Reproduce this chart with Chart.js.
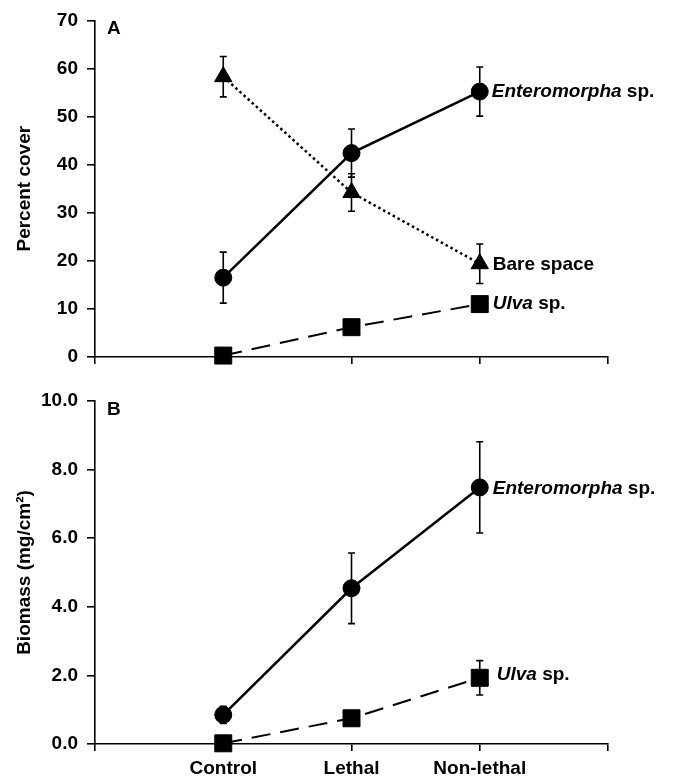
<!DOCTYPE html>
<html>
<head>
<meta charset="utf-8">
<script src="https://cdn.jsdelivr.net/npm/chart.js@4/dist/chart.umd.min.js"></script>
<style>
  body { margin: 0; background: #fff; }
  canvas { display: block; }
</style>
</head>
<body>
<canvas id="chartA" width="678" height="380"></canvas>
<canvas id="chartB" width="678" height="398"></canvas>
<script>
// Categories sit at x = 1, 2, 3 on a 0..4 axis
const categories = ['Control', 'Lethal', 'Non-lethal'];
const xPositions = [1, 2, 3];

// Panel A : percent cover
const coverEnteromorpha = [16.5, 42.4, 55.2];
const coverEnteromorphaErr = [5.3, 5.0, 5.1];
const coverBare = [58.3, 34.2, 19.4];
const coverBareErr = [4.2, 3.9, 4.1];
const coverUlva = [0.3, 6.2, 11.0];
const coverUlvaErr = [0, 0, 0];

// Panel B : biomass (mg/cm2)
const biomassEnteromorpha = [0.85, 4.54, 7.48];
const biomassEnteromorphaErr = [0.25, 1.03, 1.33];
const biomassUlva = [0.02, 0.75, 1.93];
const biomassUlvaErr = [0, 0, 0.5];

const fontFamily = '"Liberation Sans", Arial, sans-serif';
const fontSize = 19;

Chart.defaults.font.family = fontFamily;
Chart.defaults.color = '#000';

function points(values) {
    return values.map((v, i) => ({ x: xPositions[i], y: v }));
}

function serie(values, errors, style, label) {
    const base = {
        data: points(values),
        errors: errors,
        endLabel: label,
        borderColor: '#000',
        backgroundColor: '#000',
        pointBackgroundColor: '#000',
        pointBorderColor: '#000',
        pointBorderWidth: 1,
        borderWidth: 2.5,
        fill: false,
        clip: false,
        tension: 0
    };
    if (style === 'circle') {
        base.pointStyle = 'circle';
        base.pointRadius = 8.5;
    } else if (style === 'triangle') {
        base.pointStyle = 'triangle';
        base.pointRadius = 10;
        base.borderDash = [2.5, 3];
        base.borderWidth = 2.5;
    } else {
        base.pointStyle = 'rect';
        base.pointRadius = 12;
        base.borderDash = [19, 10];
        base.borderWidth = 2;
    }
    return base;
}

// Error bars, drawn under the markers
const errorBarPlugin = {
    id: 'errorBars',
    beforeDatasetsDraw(chart) {
        const ctx = chart.ctx;
        const xs = chart.scales.x;
        const ys = chart.scales.y;
        ctx.save();
        ctx.strokeStyle = '#000';
        ctx.lineWidth = 1.6;
        ctx.setLineDash([]);
        chart.data.datasets.forEach(ds => {
            ds.data.forEach((p, i) => {
                const e = ds.errors[i];
                if (!e) return;
                const x = xs.getPixelForValue(p.x);
                const yTop = ys.getPixelForValue(p.y + e);
                const yBot = ys.getPixelForValue(p.y - e);
                ctx.beginPath();
                ctx.moveTo(x, yTop);
                ctx.lineTo(x, yBot);
                ctx.moveTo(x - 3.5, yTop);
                ctx.lineTo(x + 3.5, yTop);
                ctx.moveTo(x - 3.5, yBot);
                ctx.lineTo(x + 3.5, yBot);
                ctx.stroke();
            });
        });
        ctx.restore();
    }
};

// Series names at the end of each line, plus the panel letter
const labelPlugin = {
    id: 'endLabels',
    afterDraw(chart, args, opts) {
        const ctx = chart.ctx;
        const xs = chart.scales.x;
        const ys = chart.scales.y;
        ctx.save();
        ctx.fillStyle = '#000';
        ctx.textBaseline = 'middle';
        ctx.textAlign = 'left';
        chart.data.datasets.forEach(ds => {
            const lab = ds.endLabel;
            const last = ds.data[ds.data.length - 1];
            let x = xs.getPixelForValue(last.x) + lab.dx;
            const y = ys.getPixelForValue(last.y) + lab.dy;
            if (lab.italic) {
                ctx.font = 'italic bold ' + fontSize + 'px ' + fontFamily;
                ctx.fillText(lab.italic, x, y);
                x += ctx.measureText(lab.italic).width;
            }
            ctx.font = 'bold ' + fontSize + 'px ' + fontFamily;
            ctx.fillText(lab.text, x, y);
        });
        ctx.font = 'bold ' + fontSize + 'px ' + fontFamily;
        ctx.textBaseline = 'top';
        ctx.fillText(opts.letter, chart.chartArea.left + 12, chart.chartArea.top - 1);
        ctx.restore();
    }
};

function makeOptions(cfg) {
    return {
        responsive: false,
        animation: false,
        layout: { padding: { top: cfg.top, right: 70, left: 0, bottom: 0 } },
        plugins: {
            legend: { display: false },
            tooltip: { enabled: false },
            endLabels: { letter: cfg.letter }
        },
        scales: {
            x: {
                type: 'linear',
                min: 0,
                max: 4,
                afterFit: s => { s.height = cfg.xHeight; },
                border: { display: true, color: '#000', width: 1.6 },
                grid: { drawOnChartArea: false, drawTicks: true, tickLength: 7, color: '#000', lineWidth: 1.6 },
                ticks: {
                    display: cfg.showX,
                    stepSize: 1,
                    padding: 6,
                    maxRotation: 0,
                    autoSkip: false,
                    font: { size: fontSize, weight: 'bold' },
                    callback: v => categories[v - 1] || ''
                }
            },
            y: {
                min: 0,
                max: cfg.max,
                afterFit: s => { s.width = 95; },
                border: { display: true, color: '#000', width: 1.6 },
                grid: { drawOnChartArea: false, drawTicks: true, tickLength: 8, color: '#000', lineWidth: 1.6 },
                ticks: {
                    stepSize: cfg.step,
                    padding: 9,
                    font: { size: fontSize, weight: 'bold' },
                    callback: cfg.fmt
                },
                title: {
                    display: true,
                    text: cfg.title,
                    padding: { top: 13, bottom: 0 },
                    font: { size: fontSize, weight: 'bold' }
                }
            }
        }
    };
}

new Chart(document.getElementById('chartA'), {
    type: 'line',
    data: {
        datasets: [
            serie(coverUlva, coverUlvaErr, 'rect', { italic: 'Ulva', text: ' sp.', dx: 13, dy: 0 }),
            serie(coverBare, coverBareErr, 'triangle', { text: 'Bare space', dx: 13, dy: 1 }),
            serie(coverEnteromorpha, coverEnteromorphaErr, 'circle', { italic: 'Enteromorpha', text: ' sp.', dx: 12, dy: 0 })
        ]
    },
    options: makeOptions({ top: 15, letter: 'A', xHeight: 23, showX: false, max: 70, step: 10,
        title: 'Percent cover', fmt: v => String(v) }),
    plugins: [errorBarPlugin, labelPlugin]
});

new Chart(document.getElementById('chartB'), {
    type: 'line',
    data: {
        datasets: [
            serie(biomassUlva, biomassUlvaErr, 'rect', { italic: 'Ulva', text: ' sp.', dx: 17, dy: -3 }),
            serie(biomassEnteromorpha, biomassEnteromorphaErr, 'circle', { italic: 'Enteromorpha', text: ' sp.', dx: 13, dy: 1 })
        ]
    },
    options: makeOptions({ top: 21, letter: 'B', xHeight: 34, showX: true, max: 10, step: 2,
        title: 'Biomass (mg/cm²)', fmt: v => v.toFixed(1) }),
    plugins: [errorBarPlugin, labelPlugin]
});
</script>
</body>
</html>
